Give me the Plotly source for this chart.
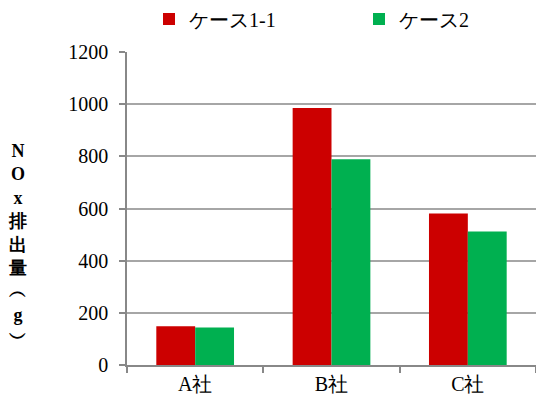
import plotly.graph_objects as go

categories = ["A社", "B社", "C社"]
case_1_1 = [149, 985, 581]
case_2 = [144, 789, 512]
series_names = ["ケース1-1", "ケース2"]
y_ticks = [0, 200, 400, 600, 800, 1000, 1200]
y_title_chars = ["N", "O", "x", "排", "出", "量", "︵", "g", "︶"]

FONT = "Times New Roman, Liberation Serif, serif"

fig = go.Figure()
fig.add_trace(go.Bar(x=categories, y=case_1_1, name=series_names[0], legend="legend",
                     marker=dict(color="#CC0000", line=dict(width=0))))
fig.add_trace(go.Bar(x=categories, y=case_2, name=series_names[1], legend="legend2",
                     marker=dict(color="#00B050", line=dict(width=0))))

legend_style = dict(orientation="h", xref="container", yref="container",
                    xanchor="left", y=0.953, yanchor="middle", itemwidth=30,
                    font=dict(family=FONT, size=20, color="#000000"),
                    bgcolor="rgba(0,0,0,0)")

fig.update_layout(
    width=536, height=406,
    margin=dict(l=127, r=0, t=52, b=41, autoexpand=False),
    paper_bgcolor="white", plot_bgcolor="white",
    font=dict(family=FONT, size=20, color="#000000"),
    barmode="group", bargap=0.43, bargroupgap=0,
    showlegend=True,
    legend=dict(legend_style, x=149 / 536),
    legend2=dict(legend_style, x=359 / 536),
)

fig.update_xaxes(
    showline=True, linecolor="#888888", linewidth=1.5,
    ticks="outside", ticklen=6, tickcolor="#888888", tickwidth=1.5,
    tickson="boundaries", showgrid=False,
    tickfont=dict(family=FONT, size=20, color="#000000"),
)
fig.update_yaxes(
    range=[0, 1200], tickvals=y_ticks,
    showline=True, linecolor="#888888", linewidth=1.5,
    ticks="outside", ticklen=6, tickcolor="#888888", tickwidth=1.5,
    showgrid=True, gridcolor="#A6A6A6", gridwidth=1.5,
    zeroline=False,
    tickfont=dict(family=FONT, size=20, color="#000000"), ticklabelstandoff=7,
)

fig.add_annotation(
    text="<b>" + "<br>".join(y_title_chars) + "</b>",
    xref="paper", yref="paper", x=-0.267, y=0.385,
    xanchor="center", yanchor="middle", showarrow=False,
    font=dict(family=FONT, size=18, color="#000000"), align="center",
)

fig.write_html("out.html")
